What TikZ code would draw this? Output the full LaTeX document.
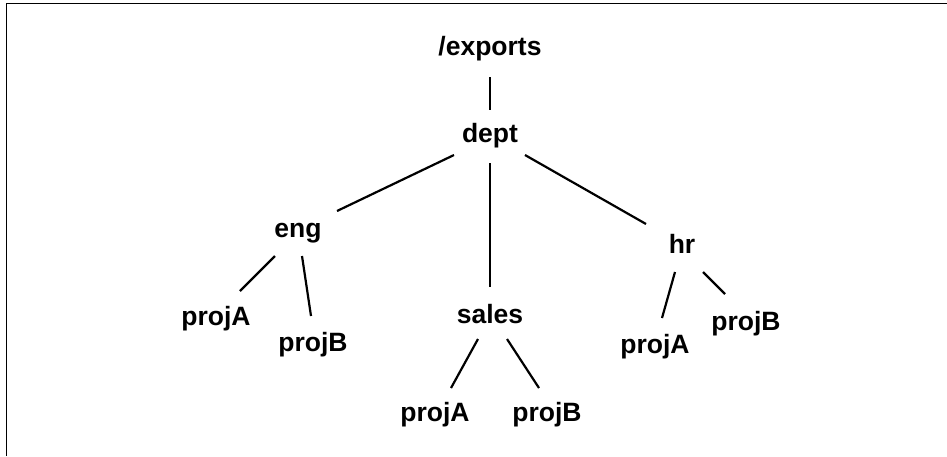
\documentclass[tikz,border=0pt]{standalone}
\usepackage{fontspec}
\setmainfont{Liberation Sans}
\usetikzlibrary{calc}
\tikzset{
  lbl/.style={font=\bfseries\fontsize{26.5}{31}\selectfont, inner sep=0pt, anchor=center},
  edge/.style={line width=2.2pt, line cap=butt},
  frame/.style={line width=1.2pt}
}
\begin{document}
\begin{tikzpicture}[x=1pt,y=-1pt]
\useasboundingbox (0,0) rectangle (947,456);
\coordinate (fA) at (6.5,456);
\coordinate (fB) at (6.5,3.5);
\coordinate (fC) at (947,3.5);
\draw[frame] (fA) -- (fB) -- (fC);

\node[lbl] (exports) at (490,49) {/exports};
\node[lbl] (dept) at (490,136) {dept};
\node[lbl] (eng) at (298,233) {eng};
\node[lbl] (sales) at (490,314) {sales};
\node[lbl] (hr) at (682,244) {hr};
\node[lbl] (engA) at (216,319) {projA};
\node[lbl] (engB) at (313,345) {projB};
\node[lbl] (salesA) at (435,415) {projA};
\node[lbl] (salesB) at (547,415) {projB};
\node[lbl] (hrA) at (655,347) {projA};
\node[lbl] (hrB) at (746,324) {projB};

\draw[edge] ($(exports)+(0,28)$) -- ($(dept)+(0,-26)$);
\draw[edge] ($(dept)+(-36,19)$) -- ($(eng)+(39,-22)$);
\draw[edge] ($(dept)+(0,27)$) -- ($(sales)+(0,-27)$);
\draw[edge] ($(dept)+(35,19)$) -- ($(hr)+(-36,-20)$);
\draw[edge] ($(eng)+(-23,23)$) -- ($(engA)+(24,-28)$);
\draw[edge] ($(eng)+(4,23)$) -- ($(engB)+(-2,-29)$);
\draw[edge] ($(sales)+(-12,25)$) -- ($(salesA)+(16,-27)$);
\draw[edge] ($(sales)+(17,25)$) -- ($(salesB)+(-8,-27)$);
\draw[edge] ($(hr)+(-7,28)$) -- ($(hrA)+(7,-29)$);
\draw[edge] ($(hr)+(21,28)$) -- ($(hrB)+(-21,-30)$);
\end{tikzpicture}
\end{document}
